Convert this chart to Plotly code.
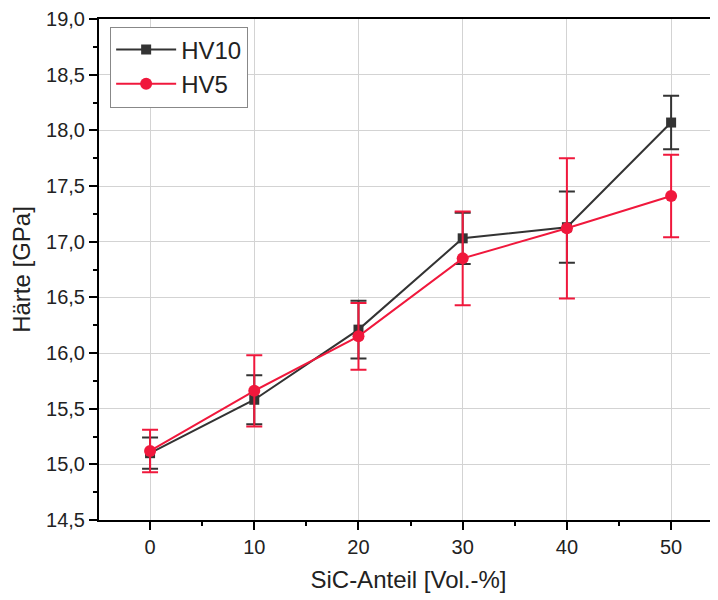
import plotly.graph_objects as go

x_vals = [0, 10, 20, 30, 40, 50]
hv10 = [15.10, 15.58, 16.21, 17.03, 17.13, 18.07]
hv10_err = [0.14, 0.22, 0.26, 0.23, 0.32, 0.24]
hv5 = [15.12, 15.66, 16.15, 16.85, 17.12, 17.41]
hv5_err = [0.19, 0.32, 0.30, 0.42, 0.63, 0.37]

fig = go.Figure()
fig.add_trace(go.Scatter(
    x=x_vals, y=hv10, name="HV10", mode="lines+markers",
    line=dict(color="#333333", width=2),
    marker=dict(symbol="square", size=10, color="#333333"),
    error_y=dict(type="data", array=hv10_err, visible=True, color="#333333", thickness=2, width=8),
))
fig.add_trace(go.Scatter(
    x=x_vals, y=hv5, name="HV5", mode="lines+markers",
    line=dict(color="#f0183c", width=2),
    marker=dict(symbol="circle", size=12, color="#f0183c"),
    error_y=dict(type="data", array=hv5_err, visible=True, color="#f0183c", thickness=2, width=8),
))

font_family = "Liberation Sans, Arial, sans-serif"
fig.update_layout(
    width=710, height=592,
    margin=dict(l=91, r=0, t=11, b=80),
    paper_bgcolor="white", plot_bgcolor="white",
    separators=",.",
    font=dict(family=font_family, color="#222222"),
    showlegend=True,
    legend=dict(
        x=0.018, y=0.985, xanchor="left", yanchor="top",
        bgcolor="white", bordercolor="#888888", borderwidth=1,
        font=dict(size=24, color="#222222"),
        itemwidth=60, tracegroupgap=0,
    ),
)
fig.update_xaxes(
    range=[-4.9, 54.5], tickvals=x_vals, ticktext=[str(v) for v in x_vals],
    showline=True, linecolor="black", linewidth=2, mirror=True,
    ticks="outside", ticklen=8, tickwidth=2, tickcolor="black",
    minor=dict(ticks="outside", ticklen=4, tickwidth=2, tickcolor="black", tickvals=[5, 15, 25, 35, 45], showgrid=False),
    showgrid=True, gridcolor="#d3d3d3", gridwidth=1, zeroline=False,
    tickfont=dict(size=20, color="#222222"),
    automargin=False, ticklabeloverflow="allow",
    title=dict(text="SiC-Anteil [Vol.-%]", font=dict(size=24, color="#222222"), standoff=14),
)
fig.update_yaxes(
    range=[14.5, 19.0], dtick=0.5, tick0=14.5, tickformat=".1f",
    showline=True, linecolor="black", linewidth=2, mirror=False,
    ticks="outside", ticklen=8, tickwidth=2, tickcolor="black",
    minor=dict(ticks="outside", ticklen=4, tickwidth=2, tickcolor="black", dtick=0.25, showgrid=False),
    showgrid=True, gridcolor="#d3d3d3", gridwidth=1, zeroline=False,
    tickfont=dict(size=20, color="#222222"),
    automargin=False, ticklabeloverflow="allow",
    title=dict(text="Härte [GPa]", font=dict(size=24, color="#222222"), standoff=12),
)

fig.write_html("out.html")
